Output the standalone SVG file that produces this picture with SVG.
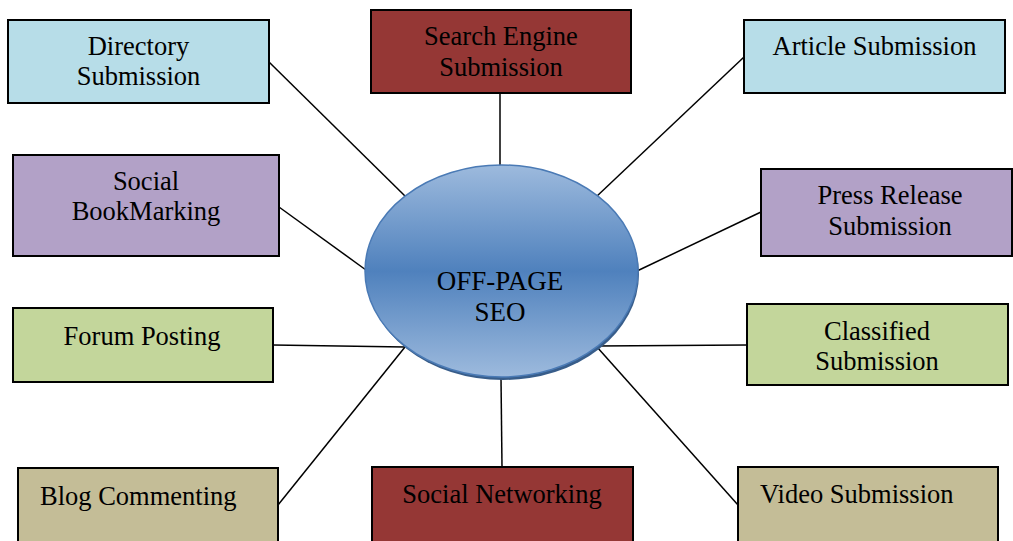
<svg xmlns="http://www.w3.org/2000/svg" width="1013" height="541" viewBox="0 0 1013 541">
<style>
.box{stroke:#000;stroke-width:2}
.blue{fill:#b7dde8}.red{fill:#953735}.purple{fill:#b2a1c7}.green{fill:#c3d69b}.tan{fill:#c4bd97}
text{font-family:"Liberation Serif","Times New Roman",serif;font-size:26.5px;fill:#000}
.c{text-anchor:middle}
.big{font-size:27px}
.conn line{stroke:#000;stroke-width:1.5}
</style>
<defs>
<linearGradient id="eg" x1="0" y1="0" x2="0" y2="1">
<stop offset="0" stop-color="#9dbadd"/>
<stop offset="0.5" stop-color="#4f81bd"/>
<stop offset="1" stop-color="#9dbadd"/>
</linearGradient>
</defs>
<rect width="1013" height="541" fill="#fff"/>
<g class="conn">
<line x1="269" y1="62" x2="405" y2="196"/>
<line x1="500" y1="93" x2="500" y2="166"/>
<line x1="744" y1="57" x2="596" y2="197"/>
<line x1="279" y1="207" x2="366" y2="270"/>
<line x1="761" y1="212" x2="637" y2="271"/>
<line x1="273" y1="345" x2="405" y2="347"/>
<line x1="747" y1="345" x2="597" y2="346"/>
<line x1="278" y1="505" x2="405" y2="347"/>
<line x1="501" y1="378" x2="502" y2="467"/>
<line x1="738" y1="505" x2="597" y2="347"/>
</g>
<g id="center">
<ellipse cx="503" cy="274" rx="136" ry="106" fill="#385d8a"/>
<ellipse cx="501.5" cy="271" rx="136.5" ry="106" fill="url(#eg)" stroke="#4a7ab5" stroke-width="1.5"/>
<text class="c big" x="500" y="290">OFF-PAGE</text>
<text class="c big" x="500" y="321">SEO</text>
</g>
<g id="directory"><rect class="box blue" x="8" y="20" width="261" height="83"/><text class="c" x="138.5" y="55">Directory</text><text class="c" x="138.5" y="85">Submission</text></g>
<g id="search-engine"><rect class="box red" x="371" y="10" width="260" height="83"/><text class="c" x="501" y="45">Search Engine</text><text class="c" x="501" y="76">Submission</text></g>
<g id="article"><rect class="box blue" x="744" y="20" width="261" height="73"/><text class="c" x="874.5" y="55">Article Submission</text></g>
<g id="social-bookmarking"><rect class="box purple" x="13" y="155" width="266" height="101"/><text class="c" x="146" y="190">Social</text><text class="c" x="146" y="220">BookMarking</text></g>
<g id="press-release"><rect class="box purple" x="761" y="169" width="251" height="87"/><text class="c" x="890" y="204">Press Release</text><text class="c" x="890" y="235">Submission</text></g>
<g id="forum-posting"><rect class="box green" x="13" y="308" width="260" height="74"/><text class="c" x="142" y="345">Forum Posting</text></g>
<g id="classified"><rect class="box green" x="747" y="304" width="261" height="81"/><text class="c" x="877" y="340">Classified</text><text class="c" x="877" y="370">Submission</text></g>
<g id="blog-commenting"><rect class="box tan" x="18" y="468" width="260" height="80"/><text x="40" y="505">Blog Commenting</text></g>
<g id="social-networking"><rect class="box red" x="372" y="467" width="261" height="80"/><text class="c" x="502" y="503">Social Networking</text></g>
<g id="video"><rect class="box tan" x="738" y="467" width="260" height="80"/><text x="760" y="503">Video Submission</text></g>
</svg>
